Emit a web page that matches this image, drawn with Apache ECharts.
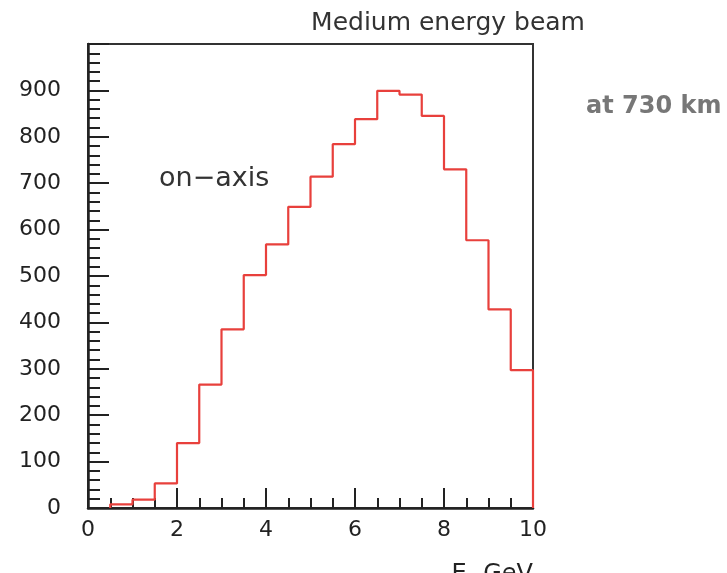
<!DOCTYPE html>
<html>
<head>
<meta charset="utf-8">
<script src="https://cdn.jsdelivr.net/npm/echarts@6/dist/echarts.min.js"></script>
<style>html,body{margin:0;padding:0;background:#fff}#c{width:727px;height:573px}</style>
</head>
<body>
<div id="c"></div>
<script>
// Histogram bins (left edges, GeV) and counts
const binLefts = [0.5, 1.0, 1.5, 2.0, 2.5, 3.0, 3.5, 4.0, 4.5, 5.0, 5.5, 6.0, 6.5, 7.0, 7.5, 8.0, 8.5, 9.0, 9.5];
const counts   = [8, 18, 53, 140, 266, 385, 502, 568, 649, 714, 784, 838, 899, 891, 845, 730, 577, 428, 297];
const binWidth = 0.5;
const yTicks = [0, 100, 200, 300, 400, 500, 600, 700, 800, 900];
const xTicks = [0, 2, 4, 6, 8, 10];

const stepData = [[binLefts[0], 0]];
binLefts.forEach((x, i) => stepData.push([x, counts[i]]));
stepData.push([binLefts[binLefts.length - 1] + binWidth, 0]);

const chart = echarts.init(document.getElementById('c'));
const axisColor = '#222';
chart.setOption({
  animation: false,
  backgroundColor: '#fff',
  title: [
    { text: 'Medium energy beam', left: 443, top: 6, textAlign: 'center',
      textStyle: { fontFamily: 'DejaVu Sans', fontSize: 25, fontWeight: 'normal', color: '#333' } },
    { text: 'at 730 km', left: 581, top: 90,
      textStyle: { fontFamily: 'DejaVu Sans', fontSize: 24, fontWeight: 'bold', color: '#777' } },
    { text: 'on\u2212axis', left: 154, top: 160,
      textStyle: { fontFamily: 'DejaVu Sans', fontSize: 27, fontWeight: 'normal', color: '#333' } }
  ],
  grid: { left: 88, top: 44, right: 194, bottom: 65, outerBoundsMode: 'none', containLabel: false,
    show: true, borderColor: '#333', borderWidth: 2, backgroundColor: 'transparent' },
  xAxis: {
    type: 'value', min: xTicks[0], max: xTicks[xTicks.length - 1], interval: 2,
    axisLine: { lineStyle: { color: axisColor, width: 2.5 } },
    axisTick: { inside: true, length: 20, lineStyle: { color: axisColor, width: 2 } },
    minorTick: { show: true, splitNumber: 4, length: 10, lineStyle: { color: axisColor, width: 2 } },
    splitLine: { show: false },
    axisLabel: { fontFamily: 'DejaVu Sans', fontSize: 22, color: '#222', margin: 11 },
    name: 'E{sub|\u03bd} GeV', nameLocation: 'end', nameGap: 0,
    nameTextStyle: { fontFamily: 'DejaVu Sans', fontSize: 24, color: '#222', align: 'right', verticalAlign: 'top', padding: [52, 0, 0, 0],
      rich: { sub: { fontFamily: 'DejaVu Sans', fontSize: 16, color: '#222', padding: [14, 0, 0, 0] } } }
  },
  yAxis: {
    type: 'value', min: 0, max: 1000, interval: 100,
    axisLine: { lineStyle: { color: axisColor, width: 2.5 } },
    axisTick: { inside: true, length: 21, lineStyle: { color: axisColor, width: 2 } },
    minorTick: { show: true, splitNumber: 5, length: 12, lineStyle: { color: axisColor, width: 2 } },
    splitLine: { show: false },
    axisLabel: { fontFamily: 'DejaVu Sans', fontSize: 22, color: '#222', margin: 27,
      formatter: v => (yTicks.indexOf(v) >= 0 ? String(v) : '') }
  },
  series: [{
    type: 'line', step: 'end', data: stepData, symbol: 'none',
    lineStyle: { color: '#e8403c', width: 2.2 }, z: 1
  }]
});
</script>
</body>
</html>
